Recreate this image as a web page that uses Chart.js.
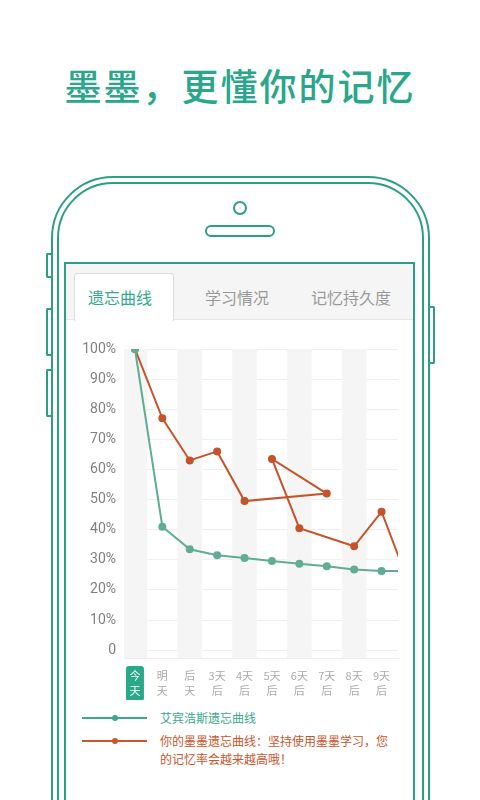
<!DOCTYPE html>
<html>
<head>
<meta charset="utf-8">
<script src="https://cdn.jsdelivr.net/npm/chart.js@4"></script>
<style>
  body { margin:0; width:480px; height:800px; background:#fff; overflow:hidden; position:relative;
         font-family:"Noto Sans CJK SC","Noto Sans",sans-serif; }
  .abs { position:absolute; box-sizing:border-box; }
  #title { left:0; width:480px; top:58px; text-align:center; color:#2aa68a; font-size:37px; font-weight:500; letter-spacing:2px; }
  .green { border:2px solid #2d9e86; }
  .tab { top:285px; font-size:16px; color:#999; }
  .leg { font-size:12px; line-height:18px; }
</style>
</head>
<body>
<div id="title" class="abs">墨墨，更懂你的记忆</div>
<!-- phone frame -->
<div class="abs green" style="left:51px;top:176px;width:379px;height:700px;border-radius:62px;"></div>
<div class="abs green" style="left:57px;top:182px;width:367px;height:690px;border-radius:56px;"></div>
<div class="abs green" style="left:46px;top:253px;width:7px;height:25px;border-radius:2px;border-right:none;"></div>
<div class="abs green" style="left:46px;top:308px;width:7px;height:48px;border-radius:2px;border-right:none;"></div>
<div class="abs green" style="left:46px;top:369px;width:7px;height:48px;border-radius:2px;border-right:none;"></div>
<div class="abs green" style="left:428px;top:306px;width:7px;height:58px;border-radius:2px;border-left:none;"></div>
<div class="abs green" style="left:233px;top:201px;width:14px;height:14px;border-radius:50%;"></div>
<div class="abs green" style="left:205px;top:225px;width:70px;height:12px;border-radius:6px;"></div>
<!-- screen -->
<div class="abs green" style="left:64px;top:262px;width:351px;height:600px;border-bottom:none;"></div>
<div class="abs" style="left:66px;top:264px;width:347px;height:56px;background:#f5f5f5;border-bottom:1px solid #e6e6e6;"></div>
<div class="abs" style="left:74px;top:273px;width:100px;height:48px;background:#fff;border:1px solid #ddd;border-bottom:none;border-radius:3px 3px 0 0;"></div>
<div class="abs tab" style="left:88px;color:#35a98c;">遗忘曲线</div>
<div class="abs tab" style="left:205px;">学习情况</div>
<div class="abs tab" style="left:311px;">记忆持久度</div>

<div class="abs" style="left:64px;top:330px;width:346px;height:370px;"><canvas id="chart"></canvas></div>

<!-- legend -->
<div class="abs" style="left:82px;top:717px;width:65px;height:2px;background:#3aa88c;"></div>
<div class="abs" style="left:112px;top:715px;width:6px;height:6px;border-radius:50%;background:#3aa88c;"></div>
<div class="abs leg" style="left:160px;top:709px;color:#3aa88c;">艾宾浩斯遗忘曲线</div>
<div class="abs" style="left:82px;top:740px;width:65px;height:2px;background:#c9562c;"></div>
<div class="abs" style="left:112px;top:738px;width:6px;height:6px;border-radius:50%;background:#c9562c;"></div>
<div class="abs leg" style="left:160px;top:732px;width:232px;color:#c9562c;">你的墨墨遗忘曲线：坚持使用墨墨学习，您的记忆率会越来越高哦！</div>

<script>
const dayLabels = [['今','天'],['明','天'],['后','天'],['3天','后'],['4天','后'],['5天','后'],['6天','后'],['7天','后'],['8天','后'],['9天','后']];
const yTicks = [0,10,20,30,40,50,60,70,80,90,100];
// Ebbinghaus curve, by day index
const ebbX = [0,1,2,3,4,5,6,7,8,9,10];
const ebbY = [100,41,33.5,31.5,30.6,29.6,28.7,27.9,26.8,26.3,26.3];
// user curve, in drawn order (it doubles back on itself)
const userX = [0,1,2,3,4,7,5,6,8,9,10];
const userY = [100,77,63,66,49.5,52,63.5,40.5,34.5,46,22];

const GREEN = '#5fad92', ORANGE = '#c5532b';

const bandsPlugin = {
  id: 'bands',
  beforeDatasetsDraw(c) {
    const { ctx, chartArea: a, scales: { x } } = c;
    ctx.save();
    ctx.fillStyle = '#f5f5f5';
    for (let i = 0; i < dayLabels.length; i += 2) {
      const l = x.getPixelForValue(i - 0.45), r = x.getPixelForValue(i + 0.45);
      ctx.fillRect(Math.max(l, a.left), a.top, r - Math.max(l, a.left), a.bottom - a.top);
    }
    ctx.restore();
  },
  afterDraw(c) {
    const { ctx, chartArea: a, scales: { x } } = c;
    ctx.save();
    ctx.font = '11px "Noto Sans CJK SC"';
    ctx.textAlign = 'center';
    ctx.textBaseline = 'middle';
    dayLabels.forEach((lab, i) => {
      const px = x.getPixelForValue(i);
      if (i === 0) {
        ctx.fillStyle = '#2aa98a';
        ctx.beginPath();
        ctx.roundRect(px - 9, a.bottom + 8, 18, 35, 3);
        ctx.fill();
      }
      ctx.fillStyle = i === 0 ? '#fff' : '#aaa';
      ctx.fillText(lab[0], px, a.bottom + 18);
      ctx.fillText(lab[1], px, a.bottom + 33);
    });
    ctx.restore();
  }
};

new Chart(document.getElementById('chart'), {
  type: 'line',
  data: {
    datasets: [
      { data: ebbX.map((v, i) => ({ x: v, y: ebbY[i] })), borderColor: GREEN, backgroundColor: GREEN,
        borderWidth: 2, pointRadius: 3, tension: 0 },
      { data: userX.map((v, i) => ({ x: v, y: userY[i] })), borderColor: ORANGE, backgroundColor: ORANGE,
        borderWidth: 2, pointRadius: 3, tension: 0 }
    ]
  },
  options: {
    responsive: true, maintainAspectRatio: false, animation: false,
    layout: { padding: { top: 19, right: 12, bottom: 0, left: 0 } },
    plugins: { legend: { display: false }, tooltip: { enabled: false } },
    scales: {
      x: {
        type: 'linear', min: -0.4, max: 9.6,
        grid: { display: false }, border: { color: '#eee' },
        ticks: { display: false },
        afterFit: s => { s.height = 42; }
      },
      y: {
        min: -2.6, max: 100,
        afterBuildTicks: s => { s.ticks = yTicks.map(v => ({ value: v })); },
        grid: { color: '#efefef', drawTicks: false },
        border: { display: false },
        ticks: { color: '#808080', font: { size: 14, family: 'Roboto' }, padding: 8,
                 callback: v => v === 0 ? '0' : v + '%' },
        afterFit: s => { s.width = 60; }
      }
    }
  },
  plugins: [bandsPlugin]
});
</script>
</body>
</html>
